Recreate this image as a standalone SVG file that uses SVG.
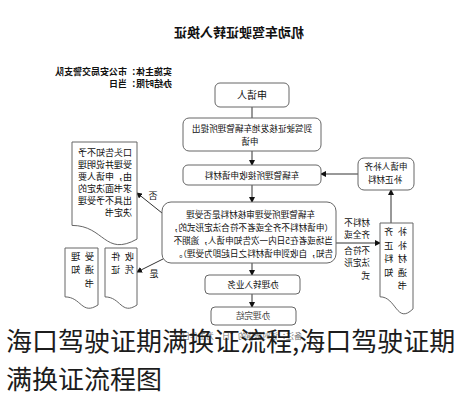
<svg xmlns="http://www.w3.org/2000/svg" width="459" height="400" viewBox="0 0 459 400">
<style>
text{font-family:"Noto Sans CJK SC","Liberation Sans",sans-serif;fill:#111}
.box{fill:#fff;stroke:#666;stroke-width:1}
.doc{fill:#fff;stroke:#666;stroke-width:1}
.ln{stroke:#333;stroke-width:1;fill:none}
.t9{font-size:9px}
.t85{font-size:8.6px}
.t10{font-size:10px}
.mid{text-anchor:middle}
.col{font-size:9.2px;letter-spacing:4.6px}
.big{font-size:26px;fill:#1c1c1c}
</style>
<defs>
<marker id="ah" markerWidth="6" markerHeight="6" refX="5" refY="3" orient="auto" markerUnits="userSpaceOnUse">
<path d="M0,0 L6,3 L0,6 Z" fill="#111"/>
</marker>
</defs>
<rect width="459" height="400" fill="#fff"/>
<g id="diagram" transform="matrix(-1 0 0 1 459 0)">
  <g id="header">
    <text x="220" y="37" class="mid" style="font-size:13px;font-weight:bold">机动车驾驶证转入换证</text>
    <text x="287" y="75" class="t9" style="font-weight:bold">实施主体：市公安局交警支队</text>
    <text x="287" y="86.5" class="t9" style="font-weight:bold">办结时限：当日</text>
  </g>
  <g id="connectors">
    <line class="ln" x1="207" y1="107" x2="207" y2="118"/>
    <line class="ln" x1="207" y1="151" x2="207" y2="165" marker-end="url(#ah)"/>
    <line class="ln" x1="207" y1="185" x2="207" y2="202" marker-end="url(#ah)"/>
    <line class="ln" x1="207" y1="263" x2="207" y2="275" marker-end="url(#ah)"/>
    <line class="ln" x1="207" y1="294" x2="207" y2="307" marker-end="url(#ah)"/>
    <line class="ln" x1="101" y1="174" x2="138" y2="174" marker-end="url(#ah)"/>
    <line class="ln" x1="68" y1="223" x2="68" y2="190" marker-end="url(#ah)"/>
    <line class="ln" x1="123" y1="243" x2="79" y2="243" marker-end="url(#ah)"/>
    <line class="ln" x1="297" y1="213" x2="322" y2="193" marker-end="url(#ah)"/>
    <line class="ln" x1="296" y1="259" x2="322" y2="272" marker-end="url(#ah)"/>
    <text x="306" y="199" class="t9 mid">否</text>
    <text x="305" y="277" class="t9 mid">是</text>
    <g id="label-incomplete" class="t85">
      <text x="89" y="225.5">材料不</text>
      <text x="89" y="238">齐全或</text>
      <text x="89" y="253.5">不符合</text>
      <text x="89" y="266">法定形</text>
      <text x="89" y="278.5">式</text>
    </g>
  </g>
  <g id="applicant">
    <rect class="box" x="170" y="83" width="74" height="24" rx="5"/>
    <text x="207" y="98.5" class="t10 mid">申请人</text>
  </g>
  <g id="submit">
    <rect class="box" x="138" y="118" width="138" height="33" rx="6"/>
    <text x="207" y="132" class="t85 mid">到驾驶证核发地车辆管理所提出</text>
    <text x="209" y="145" class="t85 mid">申请</text>
  </g>
  <g id="receive">
    <rect class="box" x="138" y="165" width="138" height="20" rx="5"/>
    <text x="207" y="178.5" class="t85 mid">车辆管理所接收申请材料</text>
  </g>
  <g id="review">
    <rect class="box" x="123" y="202" width="174" height="61" rx="9"/>
    <text x="144" y="217.5" class="t85">车辆管理所受理审核材料是否受理</text>
    <text x="126" y="230.5" class="t85">（申请材料不齐全或者不符合法定形式的，</text>
    <text x="126" y="243.5" class="t85">当场或者在5日内一次告知申请人，逾期不</text>
    <text x="126" y="256.5" class="t85">告知，自收到申请材料之日起即为受理）。</text>
  </g>
  <g id="transfer">
    <rect class="box" x="159" y="275" width="95" height="19" rx="4"/>
    <text x="206" y="287.5" class="t85 mid">办理转入业务</text>
  </g>
  <g id="finish">
    <rect class="box" x="163" y="307" width="85" height="18" rx="4"/>
    <text x="206" y="318.5" class="t85 mid" style="fill:#444">办理完结</text>
  </g>
  <g id="supplement">
    <rect class="box" x="45" y="158" width="56" height="32" rx="6"/>
    <text x="73" y="169.5" class="t85 mid">申请人补齐</text>
    <text x="74" y="182.5" class="t85 mid">补正材料</text>
  </g>
  <g id="notice-supplement">
    <path class="doc" d="M46,223 H79 V296.8 C62.5,296.8 62.5,324.9 46,308.9 Z"/>
    <text x="52" y="235" class="col">补齐</text>
    <text x="52" y="248.5" class="col">补正</text>
    <text x="52" y="262" class="col">材料</text>
    <text x="52" y="275.5" class="col">通知</text>
    <text x="52" y="289" class="col">书</text>
  </g>
  <g id="reject">
    <path class="doc" d="M322,142 H387 V225.4 C354.5,225.4 354.5,257.2 322,239.1 Z"/>
    <text x="327" y="156" class="t9">口头告知不予</text>
    <text x="327" y="168" class="t9">受理并说明理</text>
    <text x="327" y="180" class="t9">由，申请人要</text>
    <text x="327" y="192" class="t9">求书面决定的</text>
    <text x="327" y="204" class="t9">出具不予受理</text>
    <text x="327" y="216" class="t9">决定书</text>
  </g>
  <g id="receipt">
    <path class="doc" d="M322,248 H354 V296.9 C338,296.9 338,315.6 322,305 Z"/>
    <text x="325" y="259.5" class="col">收件</text>
    <text x="325" y="273" class="col">凭证</text>
  </g>
  <g id="accept-notice">
    <path class="doc" d="M361,248 H394 V296.9 C377.5,296.9 377.5,315.6 361,305 Z"/>
    <text x="365" y="259.5" class="col">受理</text>
    <text x="365" y="273" class="col">通知</text>
    <text x="365" y="286.5" class="col">书</text>
  </g>
  <text x="157" y="338.5" style="font-size:8px;fill:#777">备注：该时限指的“日”为工作日。</text>
</g>
<g id="caption">
  <text x="6" y="351" class="big">海口驾驶证期满换证流程,海口驾驶证期</text>
  <text x="6" y="389" class="big">满换证流程图</text>
</g>
</svg>
